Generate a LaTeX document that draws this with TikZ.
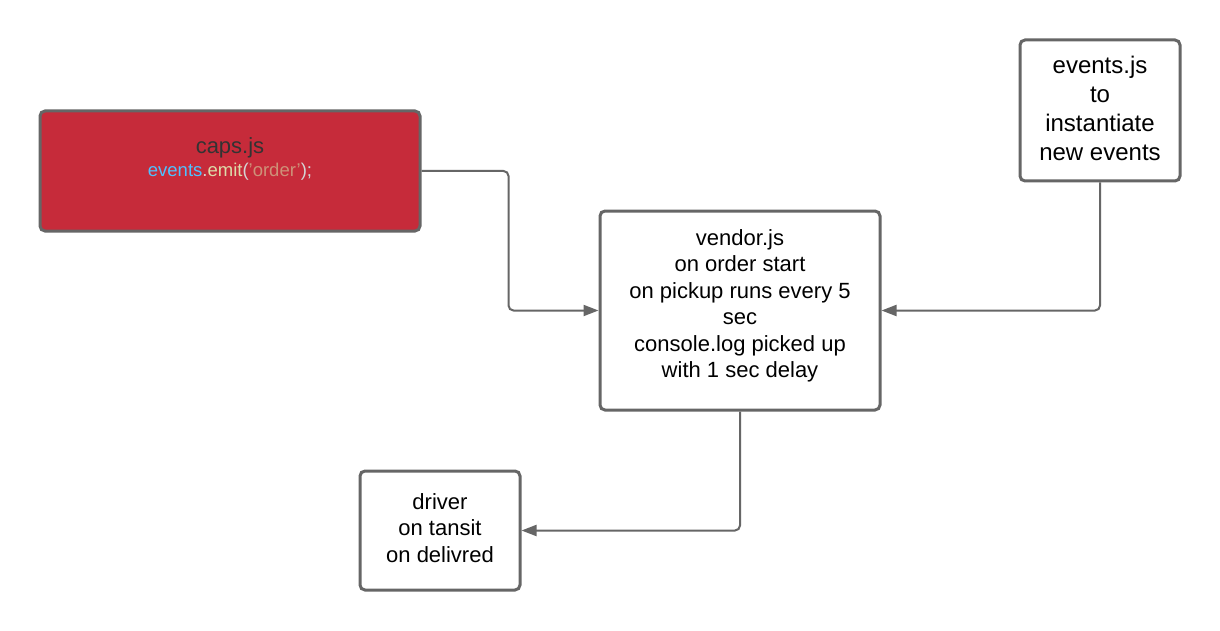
\documentclass[tikz,border=0pt]{standalone}
\usepackage{fontspec}
\setmainfont{Liberation Sans}
\usetikzlibrary{arrows.meta,calc}
\definecolor{capsred}{HTML}{C62B3A}
\definecolor{edgegray}{HTML}{666666}
\definecolor{jsblue}{HTML}{4FC1FF}
\definecolor{jsyellow}{HTML}{DCDCAA}
\definecolor{jsstr}{HTML}{CE9178}
\definecolor{jsplain}{HTML}{D4D4D4}
\definecolor{capstxt}{HTML}{333333}
\begin{document}
\begin{tikzpicture}[x=1pt,y=-1pt,
  boxstyle/.style={draw=edgegray,line width=3pt,rounded corners=5pt,inner sep=0pt},
  txt/.style={align=center,inner sep=0pt,font=\fontsize{22}{26.5}\selectfont},
  conn/.style={draw=edgegray,line width=2pt,rounded corners=5pt,-{Triangle[length=15pt,width=11pt]}}]
\useasboundingbox (0,0) rectangle (1220,631);
\fill[white] (0,0) rectangle (1220,631);
% boxes
\node[boxstyle,fill=capsred,minimum width=380pt,minimum height=120pt] (caps) at (230,171) {};
\node[boxstyle,fill=white,minimum width=280pt,minimum height=199pt] (vendor) at (740,310.5) {};
\node[boxstyle,fill=white,minimum width=160pt,minimum height=141pt] (events) at (1100,110.5) {};
\node[boxstyle,fill=white,minimum width=160pt,minimum height=119pt] (driver) at (440,530.5) {};
% texts
\node[txt,anchor=base,text=capstxt] (capstitle) at (230,154) {caps.js};
\node[inner sep=0pt,anchor=base,font=\fontsize{18.5}{22}\selectfont] (capscode) at (230,177) {\textcolor{jsblue}{events}\textcolor{jsplain}{.}\textcolor{jsyellow}{emit}\textcolor{jsplain}{(}\textcolor{jsstr}{'order'}\textcolor{jsplain}{);}};
\node[txt] (vendortext) at (740,306) {vendor.js\\on order start\\on pickup runs every 5\\sec\\console.log picked up\\with 1 sec delay};
\node[txt,font=\fontsize{24}{29}\selectfont] (eventstext) at (1100,108) {events.js\\to\\instantiate\\new events};
\node[txt] (drivertext) at (440,528) {driver\\on tansit\\on delivred};
% connectors
\draw[conn] (caps.east) -| ([xshift=-90pt]vendor.west) -- (vendor.west);
\draw[conn] (events.south) |- (vendor.east);
\draw[conn] (vendor.south) |- (driver.east);
\end{tikzpicture}
\end{document}
